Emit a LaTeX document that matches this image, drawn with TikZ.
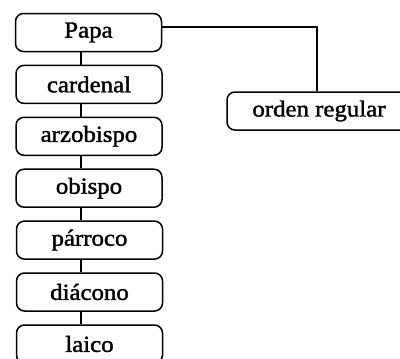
\documentclass[tikz,border=0pt]{standalone}
\usepackage{fontspec}
\setmainfont{Liberation Serif}[FakeStretch=1.08,FakeBold=1.6]
\begin{document}
\begin{tikzpicture}[x=1pt,y=-1pt,
  rank/.style={draw=black, line width=1.5pt, rounded corners=8pt, minimum width=146pt, minimum height=38pt, inner sep=0pt, font=\fontsize{23}{26}\selectfont},
  link/.style={draw=black, line width=1.5pt}]
\useasboundingbox (0,0) rectangle (400,359);
\clip (0,0) rectangle (400,359);
\node[rank] (papa) at (88.5,32.5) {Papa};
\node[rank] (card) at (89,84.4) {cardenal};
\node[rank] (arzo) at (89,136.3) {arzobispo};
\node[rank] (obis) at (89,188.2) {obispo};
\node[rank] (parr) at (89.5,240.1) {párroco};
\node[rank] (diac) at (89.5,292) {diácono};
\node[rank] (laic) at (89.5,344) {laico};
\node[rank, minimum width=184pt] (orden) at (319,111) {orden regular};
\coordinate (xl) at (81,0);
\coordinate (xr) at (317,0);
\coordinate (yt) at (0,27);
\draw[link] (papa.south -| xl) -- (card.north -| xl);
\draw[link] (card.south -| xl) -- (arzo.north -| xl);
\draw[link] (arzo.south -| xl) -- (obis.north -| xl);
\draw[link] (obis.south -| xl) -- (parr.north -| xl);
\draw[link] (parr.south -| xl) -- (diac.north -| xl);
\draw[link] (diac.south -| xl) -- (laic.north -| xl);
\draw[link] (papa.east |- yt) -| (orden.north -| xr);
\end{tikzpicture}
\end{document}
